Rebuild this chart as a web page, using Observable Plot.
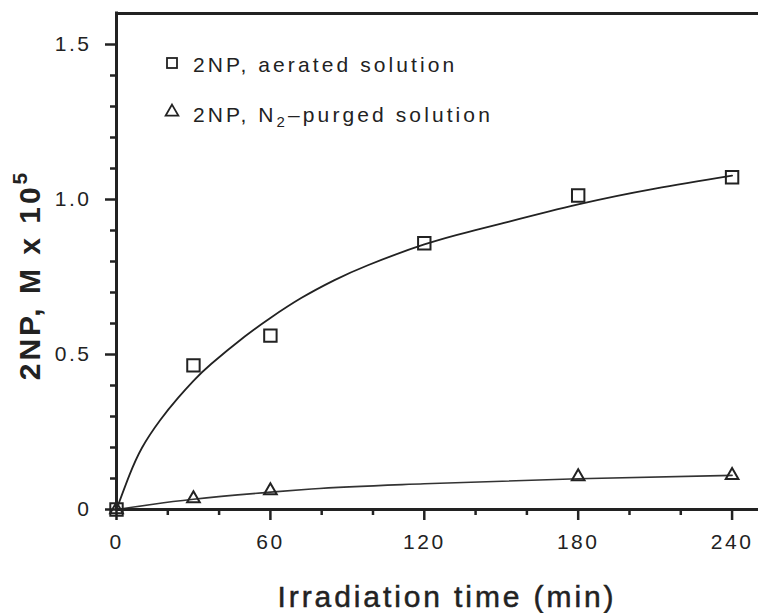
<!DOCTYPE html>
<html><head><meta charset="utf-8">
<script src="https://cdn.jsdelivr.net/npm/d3@7"></script>
<script src="https://cdn.jsdelivr.net/npm/@observablehq/plot@0.6"></script>
<style>
body{margin:0;background:#fff;}
#wrap{position:relative;width:758px;height:613px;font-family:"Liberation Sans",Arial,Helvetica,sans-serif;}
#wrap svg text{letter-spacing:2.5px;}
</style></head><body><div id="wrap"></div>
<script>
// observed data
const aerTimes = [0, 30, 60, 120, 180, 240];
const aerValues = [0, 0.465, 0.561, 0.859, 1.013, 1.072];
const purTimes = [0, 30, 60, 180, 240];
const purValues = [0, 0.035, 0.061, 0.106, 0.110];
// fitted curves
const fitAerTimes = [0, 5, 10, 17, 24, 30, 37, 50, 60, 72, 85, 98, 120, 137, 150, 180, 210, 240];
const fitAerValues = [0, 0.11, 0.20, 0.288, 0.36, 0.415, 0.47, 0.558, 0.618, 0.682, 0.740, 0.788, 0.855, 0.895, 0.922, 0.984, 1.035, 1.077];
const fitPurTimes = [0, 15, 30, 60, 76, 120, 180, 240];
const fitPurValues = [0, 0.018, 0.033, 0.056, 0.066, 0.083, 0.099, 0.110];
// ticks
const xTicks = [0, 60, 120, 180, 240];
const xMinor = [20, 40, 80, 100, 140, 160, 200, 220];
const yTicks = [0, 0.5, 1.0, 1.5];
const yTickLabels = ["0", "0.5", "1.0", "1.5"];
const yMinor = [0.1, 0.2, 0.3, 0.4, 0.6, 0.7, 0.8, 0.9, 1.1, 1.2, 1.3, 1.4];
const legendLabels = ["2NP, aerated solution", "2NP, N", "2", "\u2013purged solution"];
const xTitle = "Irradiation time (min)";
const yTitle = ["2NP, M x 10", "5"];

const ink = "#222";
const aer = aerTimes.map((t, i) => ({t, v: aerValues[i]}));
const pur = purTimes.map((t, i) => ({t, v: purValues[i]}));
const fitA = fitAerTimes.map((t, i) => ({t, v: fitAerValues[i]}));
const fitP = fitPurTimes.map((t, i) => ({t, v: fitPurValues[i]}));

const chart = Plot.plot({
  width: 758, height: 613,
  marginLeft: 116, marginRight: 0, marginTop: 13, marginBottom: 104,
  style: {fontFamily: '"Liberation Sans", Arial, Helvetica, sans-serif', color: ink, background: "#fff"},
  x: {domain: [0, 250.3]},
  y: {domain: [0, 1.6]},
  marks: [
    Plot.axisX(xTicks, {tickSize: 11, tickPadding: 14, fontSize: 21, strokeWidth: 2.5, stroke: ink, fill: ink, label: null, tickFormat: d => String(d)}),
    Plot.axisX(xMinor, {tickSize: 6, strokeWidth: 2.5, stroke: ink, label: null, tickFormat: () => ""}),
    Plot.axisY(yTicks, {tickSize: 11, tickPadding: 14, fontSize: 21, strokeWidth: 2.5, stroke: ink, fill: ink, label: null, tickFormat: d => yTickLabels[yTicks.indexOf(d)]}),
    Plot.axisY(yMinor, {tickSize: 6, strokeWidth: 2.5, stroke: ink, label: null, tickFormat: () => ""}),
    Plot.line(fitA, {x: "t", y: "v", curve: "natural", stroke: ink, strokeWidth: 1.8}),
    Plot.line(fitP, {x: "t", y: "v", curve: "monotone-x", stroke: "#333", strokeWidth: 1.6}),
    Plot.dot(aer, {x: "t", y: "v", symbol: "square", r: 7, stroke: ink, strokeWidth: 2, fill: "none"}),
    Plot.dot(pur, {x: "t", y: "v", symbol: "triangle", r: 4.7, stroke: ink, strokeWidth: 2, fill: "none"}),
    Plot.ruleX([0], {stroke: ink, strokeWidth: 3, strokeLinecap: "square"}),
    Plot.ruleY([0], {stroke: ink, strokeWidth: 3}),
    Plot.ruleY([1.6], {stroke: ink, strokeWidth: 3})
  ]
});
document.getElementById("wrap").appendChild(chart);

const svg = d3.select(chart);
// legend
const lg = svg.append("g").attr("fill", ink).attr("font-size", 21).attr("text-anchor", "start")
  .style("letter-spacing", "3.1px");
lg.append("rect").attr("x", 167).attr("y", 58).attr("width", 10).attr("height", 10)
  .attr("fill", "none").attr("stroke", ink).attr("stroke-width", 1.8);
lg.append("path").attr("d", d3.symbol(d3.symbolTriangle, 70)())
  .attr("transform", "translate(172,112)").attr("fill", "none").attr("stroke", ink).attr("stroke-width", 1.8);
lg.append("text").attr("x", 193).attr("y", 72).style("letter-spacing", "3.1px").text(legendLabels[0]);
const t2 = lg.append("text").attr("x", 193).attr("y", 122).style("letter-spacing", "3.1px");
t2.append("tspan").text(legendLabels[1]);
t2.append("tspan").attr("dy", 5).attr("font-size", 15).text(legendLabels[2]);
t2.append("tspan").attr("dy", -5).text(legendLabels[3]);

// axis titles
svg.append("text").attr("x", 447).attr("y", 607).attr("text-anchor", "middle")
  .attr("font-size", 30).attr("fill", ink).attr("stroke", ink).attr("stroke-width", 0.5)
  .style("letter-spacing", "2.9px").text(xTitle);
const yt = svg.append("text").attr("transform", "translate(40,275) rotate(-90)")
  .attr("text-anchor", "middle").attr("font-size", 30).attr("font-weight", "bold").attr("fill", ink)
  .style("letter-spacing", "3px");
yt.append("tspan").text(yTitle[0]);
yt.append("tspan").attr("dy", -13).attr("font-size", 21).text(yTitle[1]);
</script></body></html>
